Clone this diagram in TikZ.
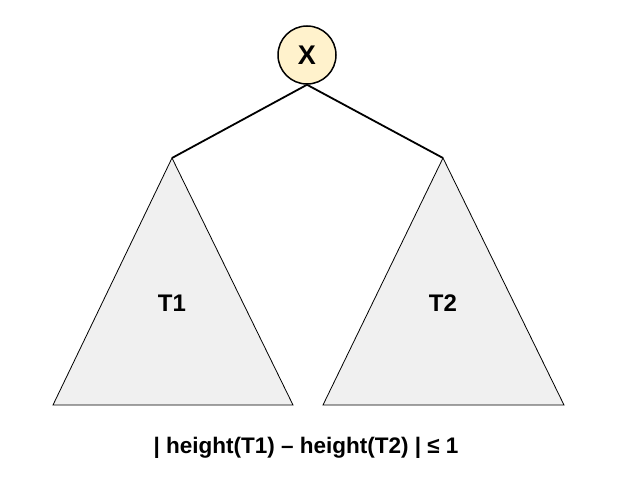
\documentclass[tikz,border=0pt]{standalone}
\usepackage{fontspec}
\setmainfont{Liberation Sans}
\begin{document}
\begin{tikzpicture}[x=1pt,y=-1pt,
  rootnode/.style={circle,draw=black,line width=1.5pt,fill=rootfill,minimum size=58pt,inner sep=0pt,font=\bfseries\fontsize{27}{30}\selectfont},
  subtree/.style={draw=black,line width=0.8pt,fill=treefill},
  edge/.style={draw=black,line width=1.8pt},
  lbl/.style={font=\bfseries\fontsize{24}{28}\selectfont},
  formula/.style={font=\bfseries\fontsize{22.5}{26}\selectfont}]
\definecolor{rootfill}{HTML}{FFF2CC}
\definecolor{treefill}{HTML}{F0F0F0}
\useasboundingbox[fill=white] (0,0) rectangle (619,492);
\coordinate (a1) at (172,158);
\coordinate (a2) at (443,158);
\filldraw[subtree] (a1) -- (293,405) -- (53,405) -- cycle;
\filldraw[subtree] (a2) -- (564,405) -- (323,405) -- cycle;
\node[rootnode] (x) at (307,55) {X};
\draw[edge] (x.south) -- (a1);
\draw[edge] (x.south) -- (a2);
\node[lbl] (t1) at (172,303) {T1};
\node[lbl] (t2) at (443,303) {T2};
\node[formula] (f) at (306,448) {| height(T1) – height(T2) | ≤ 1};
\end{tikzpicture}
\end{document}
